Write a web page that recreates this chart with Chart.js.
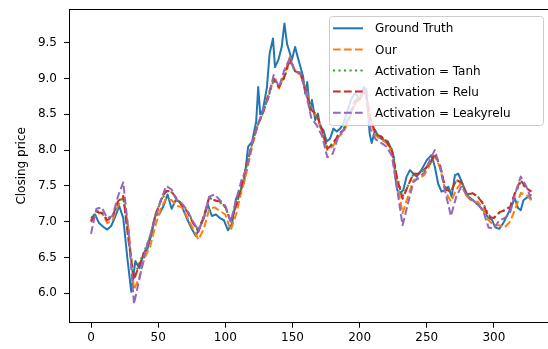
<!DOCTYPE html>
<html>
<head>
<meta charset="utf-8">
<script src="https://cdn.jsdelivr.net/npm/chart.js@4/dist/chart.umd.min.js"></script>
<style>
  html, body { margin: 0; padding: 0; background: #fff; overflow: hidden; }
</style>
</head>
<body>
<canvas id="lineChart" width="548" height="349"></canvas>
<script>
// series names (legend order)
var seriesNames = ['Ground Truth', 'Our', 'Activation = Tanh', 'Activation = Relu', 'Activation = Leakyrelu']

// ground truth
var gtX = [0, 3, 6, 9, 12, 15, 18, 21, 24, 27, 30, 33, 36, 39, 42, 45, 48, 51, 54, 57,
  60, 63, 66, 69, 72, 75, 78, 81, 84, 87, 90, 93, 96, 99, 102, 105, 108, 111, 114, 117,
  120, 123, 124.5, 126, 128, 131, 133, 135.5, 137, 139.5, 142, 144, 146, 148, 149.5, 152, 154.5, 156, 158, 159.5,
  161, 163, 164.5, 167, 169, 170.5, 173, 175.5, 178, 180.5, 183, 185.5, 188, 191, 194, 197, 200, 203, 205, 207.5,
  209, 211.5, 214, 217.5, 221, 224, 225.5, 226.5, 228, 230, 232.5, 235, 237.5, 240, 242.5, 246, 250, 253.5, 256, 258.5,
  261, 263.5, 266, 268.5, 271, 273.5, 276, 278.5, 281, 284.5, 288.5, 292, 296, 298.5, 301, 304, 307, 310.5, 313, 315.5,
  318, 320, 322, 325.5, 328]
var gtY = [7.05, 7.10, 6.98, 6.93, 6.89, 6.94, 7.07, 7.22, 7.05, 6.50, 6.02, 6.45, 6.35, 6.55, 6.62, 6.82, 7.09, 7.11, 7.22, 7.38,
  7.18, 7.30, 7.28, 7.15, 7.02, 6.90, 6.80, 6.92, 7.05, 7.24, 7.08, 7.10, 7.05, 7.02, 6.88, 6.97, 7.32, 7.42, 7.55, 8.05,
  8.12, 8.40, 8.88, 8.50, 8.56, 8.88, 9.35, 9.56, 9.16, 9.26, 9.44, 9.77, 9.48, 9.36, 9.26, 9.44, 9.26, 9.16, 9.02, 8.79,
  8.95, 8.56, 8.70, 8.42, 8.51, 8.33, 8.28, 8.12, 8.16, 8.30, 8.26, 8.30, 8.37, 8.55, 8.72, 8.80, 8.70, 8.88, 8.85, 8.23,
  8.10, 8.28, 8.19, 8.14, 8.12, 8.00, 7.90, 7.63, 7.44, 7.40, 7.44, 7.63, 7.72, 7.67, 7.63, 7.72, 7.86, 7.93, 7.77, 7.53,
  7.42, 7.44, 7.49, 7.35, 7.65, 7.67, 7.56, 7.44, 7.35, 7.30, 7.23, 7.16, 7.05, 7.03, 6.92, 6.90, 6.98, 7.11, 7.21, 7.33,
  7.19, 7.16, 7.30, 7.35, 7.38]

// predictions share one x grid (every 4 steps)
var predX = [0, 4, 8, 12, 16, 20, 24, 28, 32, 36, 40, 44, 48, 52, 56, 60, 64, 68, 72, 76,
  80, 84, 88, 92, 96, 100, 104, 108, 112, 116, 120, 124, 128, 132, 136, 140, 144, 148, 152, 156,
  160, 164, 168, 172, 176, 180, 184, 188, 192, 196, 200, 204, 208, 212, 216, 220, 224, 228, 232, 236,
  240, 244, 248, 252, 256, 260, 264, 268, 272, 276, 280, 284, 288, 292, 296, 300, 304, 308, 312, 316,
  320, 324, 328]
var ourY = [7.00, 7.10, 7.13, 6.98, 7.02, 7.22, 7.35, 6.90, 6.05, 6.22, 6.50, 6.65, 6.95, 7.18, 7.33, 7.30, 7.22, 7.20, 7.05, 6.90,
  6.75, 6.90, 7.18, 7.20, 7.15, 7.10, 6.88, 7.10, 7.42, 7.70, 8.05, 8.33, 8.52, 8.78, 9.00, 8.86, 9.05, 9.30, 9.10, 9.05,
  8.85, 8.57, 8.48, 8.25, 8.00, 8.05, 8.18, 8.25, 8.42, 8.62, 8.70, 8.82, 8.40, 8.20, 8.15, 8.10, 7.97, 7.55, 7.12, 7.35,
  7.58, 7.60, 7.65, 7.78, 7.92, 7.75, 7.42, 7.28, 7.45, 7.55, 7.35, 7.28, 7.28, 7.18, 7.02, 6.95, 6.95, 6.92, 7.00, 7.18,
  7.40, 7.38, 7.30]
var tanhY = [7.02, 7.15, 7.13, 7.03, 7.08, 7.27, 7.34, 6.75, 6.22, 6.42, 6.60, 6.80, 7.10, 7.28, 7.42, 7.41, 7.31, 7.23, 7.14, 6.99,
  6.88, 7.08, 7.33, 7.30, 7.27, 7.20, 7.01, 7.21, 7.48, 7.79, 8.09, 8.34, 8.52, 8.74, 8.98, 8.88, 9.01, 9.25, 9.10, 9.07,
  8.81, 8.57, 8.50, 8.29, 8.04, 8.09, 8.21, 8.29, 8.45, 8.64, 8.72, 8.83, 8.45, 8.23, 8.19, 8.13, 8.01, 7.62, 7.35, 7.50,
  7.66, 7.67, 7.72, 7.80, 7.93, 7.78, 7.47, 7.43, 7.57, 7.54, 7.38, 7.40, 7.35, 7.26, 7.09, 7.06, 7.12, 7.16, 7.21, 7.40,
  7.55, 7.47, 7.42]
var reluY = [7.00, 7.14, 7.12, 7.02, 7.07, 7.28, 7.36, 6.72, 6.19, 6.40, 6.58, 6.78, 7.10, 7.30, 7.43, 7.42, 7.32, 7.23, 7.13, 6.98,
  6.86, 7.08, 7.34, 7.30, 7.28, 7.21, 7.00, 7.22, 7.50, 7.80, 8.10, 8.35, 8.52, 8.75, 9.00, 8.88, 9.02, 9.27, 9.10, 9.08,
  8.80, 8.56, 8.50, 8.28, 8.02, 8.08, 8.21, 8.28, 8.45, 8.65, 8.72, 8.85, 8.45, 8.22, 8.19, 8.12, 8.00, 7.60, 7.32, 7.50,
  7.67, 7.67, 7.73, 7.80, 7.95, 7.78, 7.45, 7.42, 7.58, 7.55, 7.37, 7.40, 7.35, 7.25, 7.07, 7.05, 7.13, 7.16, 7.20, 7.42,
  7.58, 7.47, 7.42]
var leakyY = [6.83, 7.18, 7.20, 7.05, 7.08, 7.35, 7.55, 6.85, 5.85, 6.20, 6.55, 6.80, 7.05, 7.30, 7.50, 7.45, 7.30, 7.25, 7.15, 7.00,
  6.88, 7.05, 7.35, 7.38, 7.30, 7.22, 7.00, 7.30, 7.58, 7.75, 8.10, 8.35, 8.55, 8.72, 9.05, 8.88, 9.12, 9.28, 9.10, 9.08,
  8.80, 8.45, 8.35, 8.20, 7.90, 7.95, 8.18, 8.28, 8.48, 8.68, 8.75, 8.85, 8.30, 8.15, 8.10, 8.05, 7.92, 7.45, 6.95, 7.25,
  7.55, 7.62, 7.68, 7.85, 8.00, 7.75, 7.40, 7.08, 7.35, 7.50, 7.35, 7.30, 7.25, 7.15, 6.92, 6.90, 7.02, 7.05, 7.12, 7.40,
  7.63, 7.50, 7.30]

// tick labels
var xTicks = [0, 50, 100, 150, 200, 250, 300]
var yTicks = [6.0, 6.5, 7.0, 7.5, 8.0, 8.5, 9.0, 9.5]

var colors = ['#1f77b4', '#ff7f0e', '#2ca02c', '#d62728', '#9467bd']
var dashes = [[], [7.7, 3.3], [2.1, 3.4], [7.7, 3.3], [7.7, 3.3]]

function toPoints(xs, ys) {
    var pts = []
    for (var i = 0; i < xs.length; i++) {
        pts.push({ x: xs[i], y: ys[i] })
    }
    return pts
}

function makeSet(i, xs, ys) {
    return {
        label: seriesNames[i],
        data: toPoints(xs, ys),
        borderColor: colors[i],
        borderWidth: 2,
        borderDash: dashes[i],
        borderCapStyle: 'butt',
        borderJoinStyle: 'round',
        pointRadius: 0,
        tension: 0,
        fill: false,
        order: 4 - i   // later series on top, like matplotlib
    }
}

// top spine and the legend box
var extras = {
    id: 'extras',
    afterDraw: function (chart) {
        var ctx = chart.ctx
        var area = chart.chartArea
        ctx.save()
        ctx.strokeStyle = '#000'
        ctx.lineWidth = 1
        ctx.beginPath()
        ctx.moveTo(area.left, Math.round(area.top) + 0.5)
        ctx.lineTo(area.right, Math.round(area.top) + 0.5)
        ctx.stroke()

        var bx = 329.5, by = 16.5, bw = 214, bh = 109, r = 3
        ctx.beginPath()
        ctx.moveTo(bx + r, by)
        ctx.lineTo(bx + bw - r, by)
        ctx.arcTo(bx + bw, by, bx + bw, by + r, r)
        ctx.lineTo(bx + bw, by + bh - r)
        ctx.arcTo(bx + bw, by + bh, bx + bw - r, by + bh, r)
        ctx.lineTo(bx + r, by + bh)
        ctx.arcTo(bx, by + bh, bx, by + bh - r, r)
        ctx.lineTo(bx, by + r)
        ctx.arcTo(bx, by, bx + r, by, r)
        ctx.closePath()
        ctx.fillStyle = 'rgba(255,255,255,0.8)'
        ctx.fill()
        ctx.strokeStyle = '#cccccc'
        ctx.stroke()

        ctx.font = '12px "DejaVu Sans"'
        ctx.textBaseline = 'middle'
        ctx.fillStyle = '#000'
        for (var i = 0; i < seriesNames.length; i++) {
            var yy = 28.3 + i * 21.1
            ctx.beginPath()
            ctx.setLineDash(dashes[i])
            ctx.lineCap = 'butt'
            ctx.strokeStyle = colors[i]
            ctx.lineWidth = 2
            ctx.moveTo(333, yy)
            ctx.lineTo(363, yy)
            ctx.stroke()
            ctx.setLineDash([])
            ctx.fillText(seriesNames[i], 375, yy + 1)
        }
        ctx.restore()
    }
}

var tickFont = { family: 'DejaVu Sans', size: 12 }

new Chart(document.getElementById('lineChart'), {
    type: 'line',
    data: {
        datasets: [
            makeSet(0, gtX, gtY),
            makeSet(1, predX, ourY),
            makeSet(2, predX, tanhY),
            makeSet(3, predX, reluY),
            makeSet(4, predX, leakyY)
        ]
    },
    options: {
        responsive: false,
        animation: false,
        events: [],
        layout: { padding: { top: 9, left: 0, right: 0, bottom: 0 } },
        plugins: {
            legend: { display: false },
            tooltip: { enabled: false }
        },
        scales: {
            x: {
                type: 'linear',
                min: -16.4,
                max: 340.3,
                afterBuildTicks: function (scale) {
                    scale.ticks = xTicks.map(function (v) { return { value: v } })
                },
                afterFit: function (scale) {
                    scale.height = 26.3
                    scale.paddingLeft = 0
                    scale.paddingRight = 0
                },
                ticks: {
                    font: tickFont,
                    color: '#000',
                    padding: 3,
                    maxRotation: 0,
                    autoSkip: false,
                    callback: function (v) { return String(v) }
                },
                grid: { drawOnChartArea: false, drawTicks: true, tickLength: 5, tickColor: '#000' },
                border: { display: true, color: '#000', width: 1 }
            },
            y: {
                type: 'linear',
                min: 5.589,
                max: 9.971,
                afterBuildTicks: function (scale) {
                    scale.ticks = yTicks.map(function (v) { return { value: v } })
                },
                afterFit: function (scale) {
                    scale.width = 69
                    scale.paddingTop = 0
                    scale.paddingBottom = 0
                },
                ticks: {
                    font: tickFont,
                    color: '#000',
                    padding: 7,
                    autoSkip: false,
                    callback: function (v) { return v.toFixed(1) }
                },
                title: {
                    display: true,
                    text: 'Closing price',
                    font: tickFont,
                    color: '#000',
                    padding: { top: 15, bottom: 0 }
                },
                grid: { drawOnChartArea: false, drawTicks: true, tickLength: 5, tickColor: '#000' },
                border: { display: true, color: '#000', width: 1 }
            }
        }
    },
    plugins: [extras]
})
</script>
</body>
</html>
